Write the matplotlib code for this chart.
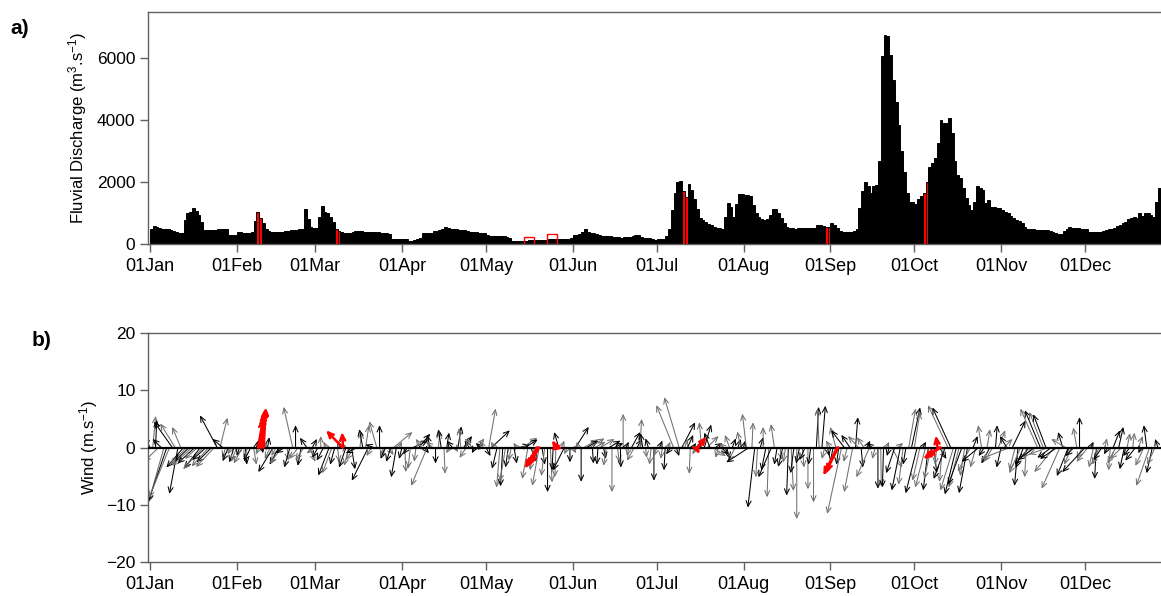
import numpy as np
import matplotlib
matplotlib.use("Agg")
import matplotlib.pyplot as plt
from matplotlib.patches import FancyArrowPatch

plt.rcParams['font.family'] = ['Liberation Sans', 'DejaVu Sans']
plt.rcParams['mathtext.fontset'] = 'custom'
plt.rcParams['mathtext.rm'] = 'Liberation Sans'
plt.rcParams['mathtext.it'] = 'Liberation Sans:italic'

# ---- calendar axis -------------------------------------------------------
month_starts = [0, 31, 59, 90, 120, 151, 181, 212, 243, 273, 304, 334]
month_labels = ['01Jan', '01Feb', '01Mar', '01Apr', '01May', '01Jun',
                '01Jul', '01Aug', '01Sep', '01Oct', '01Nov', '01Dec']

# ---- daily fluvial discharge (m3/s) --------------------------------------
q_jan = [480, 580, 540, 520, 500, 480, 470, 450, 420, 380, 370, 370, 780, 1000,
         1050, 1150, 1080, 940, 700, 460, 450, 450, 440, 440, 480, 500, 470, 480,
         290, 280, 280]
q_feb = [400, 390, 370, 360, 370, 380, 745, 1050, 830, 670, 500, 420, 390, 380,
         380, 390, 400, 420, 430, 440, 450, 460, 470, 480, 1120, 810, 560, 510]
q_mar = [510, 885, 1240, 1050, 1000, 885, 700, 480, 420, 380, 350, 340, 350, 380,
         410, 420, 410, 400, 390, 380, 400, 380, 375, 370, 370, 360, 330, 170,
         170, 170, 160]
q_apr = [170, 160, 110, 110, 120, 150, 200, 340, 350, 360, 370, 410, 430, 450,
         480, 540, 510, 480, 475, 470, 460, 450, 440, 430, 400, 380, 380, 370,
         370, 360]
q_may = [300, 270, 260, 260, 255, 250, 250, 240, 200, 110, 110, 110, 100, 100,
         110, 120, 130, 130, 130, 130, 130, 140, 160, 160, 160, 160, 160, 160,
         170, 170, 200]
q_jun = [290, 300, 310, 380, 475, 400, 350, 340, 330, 280, 270, 260, 250, 250,
         240, 220, 215, 210, 215, 220, 230, 250, 280, 290, 230, 190, 185, 180,
         170, 130]
q_jul = [150, 160, 160, 250, 475, 1100, 1640, 1990, 2050, 1700, 1530, 1930, 1750,
         1450, 1120, 830, 760, 700, 650, 600, 560, 530, 510, 490, 885, 1340, 1210,
         885, 1300, 1610, 1610]
q_aug = [1600, 1580, 1550, 1260, 1000, 860, 820, 780, 800, 940, 1130, 1130, 1000,
         830, 670, 560, 520, 510, 500, 510, 530, 520, 530, 520, 530, 530, 600,
         615, 590, 560, 540]
q_sep = [690, 615, 510, 420, 400, 390, 400, 400, 420, 475, 1150, 1700, 1990, 1860,
         1660, 1860, 1900, 2670, 6070, 6770, 6720, 6100, 5300, 4600, 3850, 3000,
         2340, 1660, 1370, 1370]
q_oct = [1300, 1450, 1560, 1640, 1990, 2500, 2610, 2780, 3260, 4020, 3910, 3910,
         4070, 3590, 2670, 2240, 2130, 1800, 1480, 1250, 1100, 1370, 1860, 1800,
         1750, 1320, 1430, 1210, 1180, 1160, 1160]
q_nov = [1100, 1050, 1000, 890, 830, 780, 740, 690, 560, 500, 500, 490, 460, 450,
         450, 450, 440, 430, 400, 345, 330, 325, 430, 500, 560, 530, 510, 510,
         500, 480]
q_dec = [475, 400, 380, 380, 380, 380, 420, 450, 475, 500, 530, 580, 615, 680,
         720, 800, 830, 860, 830, 1000, 920, 1015, 1015, 940, 860, 1370, 1800,
         1750, 1700, 1650, 1600]

# days highlighted in red, and two low-flow flags in May
red_bar_days = [38, 39, 66, 67, 190, 191, 241, 242, 276, 277]
flag_days = [135.5, 143.5]
flag_q = [70, 150]

# ---- daily wind stick components (m/s) ----------------------------------
u_jan = [-1.0, 0.5, 0.2, -2.5, -1.5, -2.7, -3.2, -3.6, -3.2, -2.6, -1.5, -1.5,
         -3.0, -2.8, -2.5, -3.5, -3.0, -2.2, -2.8, -3.5, -2.4, -3.0, -2.6, -3.2,
         -3.0, 1.3, -1.8, -0.5, -1.0, -0.6, -0.8]
v_jan = [2.0, 5.5, 4.8, -2.5, 1.5, -9.6, -9.4, -8.8, 4.5, 4.2, -8.1, 3.6, -3.5,
         -3.0, -2.4, -3.2, -2.8, -2.0, -3.6, -3.8, -2.2, -3.3, -2.6, -3.4, 5.6,
         5.2, 1.5, -1.8, -2.4, -1.2, -2.6]
u_feb = [-1.0, -0.5, -1.5, 0.3, -0.8, -1.2, 0.5, 0.3, -0.6, 0.2, 0.4, 0.3, -1.0,
         -2.6, -0.8, -1.6, -2.0, -1.5, 0.2, -1.0, -1.6, 0.0, -1.6, -0.6, -1.5,
         -1.2, 1.0, 0.8]
v_feb = [-2.5, -1.5, -2.8, -3.0, -1.8, -2.4, -3.0, 1.2, -1.2, -1.0, 0.8, 1.8,
         -2.0, -4.3, -1.5, -3.0, -2.8, -1.0, -2.3, -3.5, 7.1, 3.9, -2.0, -3.2,
         -2.2, 1.7, -2.5, 1.5]
u_mar = [-1.5, -1.0, 0.0, -1.2, -0.5, -1.9, -1.7, -0.8, 0.3, -0.5, 0.5, -1.2,
         -0.8, 0.6, -1.5, -2.0, 0.3, -0.6, 0.6, -2.9, -0.8, -1.5, -1.3, 0.0, 0.2,
         -0.8, 1.0, -0.8, 3.3, -0.9]
v_mar = [-1.0, -1.8, 2.0, -2.3, 1.0, -4.9, -4.5, -3.0, -2.6, 1.2, 0.5, -3.5,
         -3.2, -3.8, -2.2, -1.0, 2.8, 3.2, 3.9, -5.8, -1.5, 0.5, 4.6, 3.9, -1.5,
         -2.0, -1.3, -2.5, 2.7, -5.2]
u_apr = [0.5, -0.5, 0.2, -0.8, -0.4, 2.6, -0.3, 2.0, -1.0, 0.8, -2.8, -0.5, -1.2,
         0.0, 0.3, -0.5, 0.2, 0.4, -0.6, -1.0, 0.5, 0.6, -0.3, 1.5, -1.2, -0.8,
         -1.2, -0.5, 1.2, -0.8]
v_apr = [1.0, -2.0, -4.3, -1.2, -3.7, 1.2, -2.5, 2.4, 1.5, -1.0, -6.7, 2.2, 1.0,
         -2.8, 2.8, 3.2, -4.6, 2.6, -1.0, 1.2, -0.8, 3.7, 3.4, 2.0, -1.8, 1.2,
         1.6, -1.0, 1.6, 0.8]
u_may = [-0.6, 0.8, 1.2, 3.2, -0.6, -0.9, -0.6, -0.4, -1.0, -0.5, -0.4, 0.5,
         -0.6, 1.8, 2.6, 2.2, -1.0, 1.0, -0.6, -1.4, -1.2, 0.5, -0.6, 0.0, 0.3,
         -0.2, -0.2, -0.8, 0.5, -2.0, -0.5]
v_may = [1.2, -1.5, 6.8, 3.0, 1.0, -3.7, -7.0, -6.8, -6.0, -3.5, -2.3, -2.8, 0.8,
         0.5, 1.7, 1.4, -5.5, -2.5, -4.0, -3.2, -6.7, -3.0, -5.0, -7.8, -6.1,
         -4.0, -5.2, 2.7, 1.2, -4.0, -1.2]
u_jun = [0.0, 0.6, 2.3, -0.3, 0.0, 2.5, 2.0, 2.6, 0.2, 1.8, -0.2, 2.4, 0.4, -0.5,
         2.0, 0.0, 1.5, 0.3, 0.1, 0.0, 0.5, -0.3, 1.5, -1.3, 0.8, 0.3, -0.4, 0.2,
         -0.5]
v_jun = [-2.6, -1.0, 3.6, 1.0, -6.0, 1.4, 1.2, 1.6, -2.8, 1.0, -3.0, 1.5, -2.0,
         -3.2, 1.2, -7.8, 0.8, -2.6, -3.5, 5.9, 1.0, -1.5, 2.7, -2.3, 1.5, 5.0,
         2.5, -1.8, 1.6]
u_jul = [-0.3, 0.0, -0.5, 0.5, -0.3, -0.2, 0.4, -0.8, -3.0, 0.5, -2.6, 2.3, 0.5,
         1.0, -0.2, 0.5, -0.6, 0.3, -0.4, 1.2, 2.0, -1.0, 2.3, 1.2, -0.5, 1.3,
         -0.8, 0.5, -0.8, 0.6, -1.2]
v_jul = [-3.0, -5.8, -1.5, 1.2, -2.0, -4.0, 1.0, -1.2, 7.4, -1.5, 8.8, 4.4, 1.5,
         2.2, -4.6, 0.8, -1.2, 1.0, 4.4, 4.0, 2.0, 2.6, -1.5, 0.8, -1.8, -1.2,
         0.8, -2.0, 2.2, 1.6, -2.4]
u_aug = [0.5, -0.6, 0.3, -0.7, -4.0, 0.2, -1.2, -0.3, 0.5, 0.0, -0.8, -0.3, -2.3,
         -0.6, -0.5, 0.3, -0.8, -0.4, -0.3, 0.4, -0.6, 0.0, -0.6, 0.3, -1.0, 0.0,
         -0.4, 0.0, 0.4, -0.3]
v_aug = [1.5, 2.8, 1.2, 5.9, -2.6, 4.4, -10.5, -5.2, 1.8, 3.6, -4.0, -8.7, -5.2,
         4.1, -3.0, -2.2, -3.4, -2.6, -8.4, -7.6, -4.5, -12.5, -2.8, -3.5, -2.2,
         -7.3, -3.0, -9.6, 7.1, 6.8]
u_sep = [0.6, -0.5, 0.3, -0.8, -0.5, -1.0, -0.4, -2.5, -2.3, -0.6, -1.5, -1.5,
         0.4, -1.8, 0.3, -1.2, 0.6, -2.3, -1.0, -0.5, 0.0, 0.1, -0.2, 0.5, -0.4,
         1.8, -1.5, 1.0, -1.5, -0.8]
v_sep = [7.3, -2.0, -1.5, 1.2, -2.5, 3.6, -3.0, -11.6, 3.0, -2.5, 2.2, -7.8, 5.3,
         2.0, -3.5, 1.8, 1.2, -5.2, 0.8, -2.0, -7.2, -6.8, -7.0, 1.0, -1.5, -3.5,
         -4.5, 0.8, -7.5, -6.5]
u_oct = [-0.5, 1.2, 1.5, 1.0, -2.0, -1.3, 0.6, -1.8, -0.9, -1.2, 0.5, -0.3, 1.2,
         -0.5, -2.0, -3.5, -3.2, -2.3, -2.0, -1.8, -2.4, -0.8, -1.5, -2.2, 0.8,
         -1.0, -3.0, -0.6, -1.0, 0.5, -1.5]
v_oct = [-3.0, 6.8, 7.0, 6.2, -8.0, -5.8, 1.0, -7.0, -7.5, -5.5, -4.5, -3.0,
         -2.0, -6.0, -5.5, 7.4, 7.0, -7.5, -8.2, -7.0, -6.5, -5.0, -8.0, -4.2,
         2.0, -3.5, -2.5, 3.9, -1.5, 3.2, -2.8]
u_nov = [-1.5, 0.3, 1.2, -0.8, 1.5, -1.2, -5.0, 2.3, -1.0, -0.6, -2.0, -1.4,
         -0.3, -2.5, -1.5, -3.0, -3.0, -2.7, -2.4, -2.2, -3.5, -2.5, -3.5, -3.0,
         -3.2, -0.8, -2.5, -2.0, -1.2]
v_nov = [-2.5, 3.9, 3.0, -3.5, 1.5, 2.0, -2.0, 4.7, -4.0, -6.7, -4.5, -3.6,
         -5.2, -3.0, -1.8, -2.2, 6.8, 6.5, 6.2, 5.8, -1.2, -1.8, -4.3, -2.0,
         -7.2, 2.7, 1.5, -5.0, -3.0]
u_dec = [-1.5, -0.6, 0.0, -1.0, -4.0, -2.0, 0.5, -0.8, -0.3, -1.2, -1.5, 0.4,
         -0.6, -0.3, 1.2, -1.5, 0.8, -2.0, -0.8, 0.5, -1.2, 0.3, -1.8, 0.8, -0.5,
         -1.5, -0.5, -2.3, -1.0, -1.4, -0.5]
v_dec = [-1.5, 3.5, 5.3, -2.0, -4.3, -2.5, 1.0, -3.5, -5.5, -3.0, -2.2, 1.6,
         -1.2, -4.0, 3.0, -2.8, 3.6, -2.0, -3.8, 2.5, -1.5, 2.6, -2.3, 2.0, -1.0,
         -3.2, 3.9, -6.7, -4.5, -3.0, 1.5]

# highlighted wind sticks (day of year, u, v)
red_wind_day = [38.6, 39.1, 39.6, 40.1, 40.6, 68.8, 69.0, 138.2, 138.6, 139.0,
                145.2, 145.6, 195.2, 195.7, 245.4, 245.8, 281.3, 282.1, 282.4]
red_wind_u = [0.9, 0.8, 0.6, 0.5, 0.4, -2.9, -0.2, -2.1, -1.9, -1.7,
              -0.8, 0.9, 0.5, 1.5, -2.4, -2.2, -0.3, -2.9, -2.6]
red_wind_v = [5.0, 5.6, 6.2, 6.8, 7.0, 3.0, 2.7, -3.7, -3.4, -3.0,
              1.3, -0.2, -1.2, 1.9, -4.9, -4.4, 2.1, -2.0, -1.6]

discharge = np.array(q_jan + q_feb + q_mar + q_apr + q_may + q_jun + q_jul +
                     q_aug + q_sep + q_oct + q_nov + q_dec, dtype=float)
q_days = np.arange(len(discharge))

wind_u = np.array(u_jan + u_feb + u_mar + u_apr + u_may + u_jun + u_jul +
                  u_aug + u_sep + u_oct + u_nov + u_dec)
wind_v = np.array(v_jan + v_feb + v_mar + v_apr + v_may + v_jun + v_jul +
                  v_aug + v_sep + v_oct + v_nov + v_dec)
wind_days = np.arange(len(wind_u), dtype=float)

# ---- figure ---------------------------------------------------------------
W, H = 1161, 596
fig = plt.figure(figsize=(W / 100, H / 100), dpi=100)
left = 148 / W
ax1 = fig.add_axes([left, 1 - 244 / H, 1 - left, 232 / H])
ax2 = fig.add_axes([left, 1 - 562 / H, 1 - left, 229 / H])

XMIN, XMAX = -0.7, 361.1
spine_col = '#606060'

for ax in (ax1, ax2):
    ax.set_xlim(XMIN, XMAX)
    ax.set_xticks(month_starts)
    ax.set_xticklabels(month_labels)
    ax.spines['right'].set_visible(False)
    for s in ('left', 'top', 'bottom'):
        ax.spines[s].set_color(spine_col)
        ax.spines[s].set_linewidth(1.0)
    ax.tick_params(axis='both', direction='out', length=6, width=1.0,
                   color=spine_col, labelcolor='black')
    ax.tick_params(axis='x', labelsize=13, pad=4)
    ax.tick_params(axis='y', labelsize=12.5, pad=3)

# panel a: discharge bars (black edges close the gaps between daily bars)
bar_colors = ['red' if d in red_bar_days else 'black' for d in q_days]
ax1.bar(q_days, discharge, width=1.0, align='edge', color=bar_colors,
        edgecolor='black', linewidth=0.7)
ax1.plot(flag_days, flag_q, linestyle='none', marker='s', markersize=6.5,
         markerfacecolor='none', markeredgecolor='red', markeredgewidth=1.0)
ax1.set_ylim(0, 7500)
ax1.set_yticks([0, 2000, 4000, 6000])
ax1.set_ylabel('Fluvial Discharge (m$^{3}$.s$^{-1}$)', fontsize=12, labelpad=6)

# panel b: wind stick plot
ax2.set_ylim(-20, 20)
ax2.set_yticks([-20, -10, 0, 10, 20])
ax2.set_ylabel('Wind (m.s$^{-1}$)', fontsize=12, labelpad=4)
ax2.axhline(0, color='black', lw=1.6, zorder=3)

# horizontal stretch so that 1 m/s spans the same length on both axes
ax_w = (1 - left) * W
ax_h = 229
day_per_ms = (ax_h / 40.0) / (ax_w / (XMAX - XMIN))


def stick(ax, d, u, v, color, lw, z):
    arr = FancyArrowPatch((d, 0), (d + u * day_per_ms, v),
                          arrowstyle='->,head_length=0.4,head_width=0.18',
                          mutation_scale=10, color=color, lw=lw,
                          shrinkA=0, shrinkB=0, zorder=z)
    ax.add_patch(arr)


for i, (d, u, v) in enumerate(zip(wind_days, wind_u, wind_v)):
    stick(ax2, d, u, v, 'black' if i % 2 == 0 else '#707070', 0.75, 2)

for d, u, v in zip(red_wind_day, red_wind_u, red_wind_v):
    stick(ax2, d, u, v, 'red', 1.8, 4)

fig.text(10 / W, 1 - 28 / H, 'a)', fontsize=15, fontweight='bold', va='center')
fig.text(32 / W, 1 - 341 / H, 'b)', fontsize=15, fontweight='bold', va='center')

fig.savefig('out.png', dpi=100)
